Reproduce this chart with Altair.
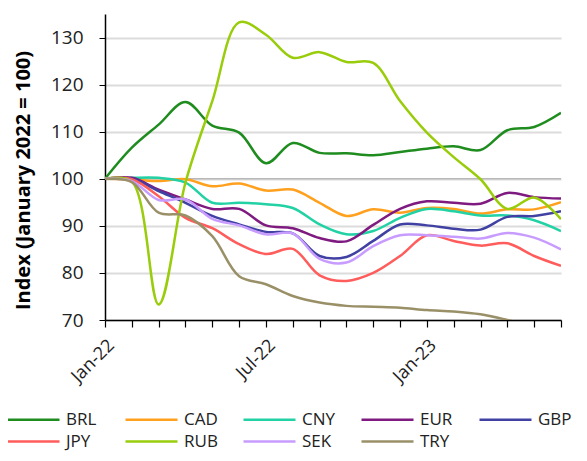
import altair as alt
import pandas as pd

months = ["Jan-22", "Feb-22", "Mar-22", "Apr-22", "May-22", "Jun-22", "Jul-22", "Aug-22", "Sep-22",
          "Oct-22", "Nov-22", "Dec-22", "Jan-23", "Feb-23", "Mar-23", "Apr-23", "May-23", "Jun-23"]
labelled = ["Jan-22", "Jul-22", "Jan-23"]

BRL = [100, 106.6, 111.5, 116.3, 111.3, 109.8, 103.3, 107.6, 105.5, 105.4, 105.0, 105.7, 106.4, 106.9, 106.1, 110.3, 111.0, 114.0]
CAD = [100, 99.9, 99.5, 99.9, 98.4, 99.0, 97.5, 97.7, 94.9, 92.1, 93.5, 92.8, 93.8, 93.6, 92.6, 93.5, 93.5, 95.0]
CNY = [100, 100.2, 100.2, 99.2, 94.9, 94.9, 94.6, 93.8, 90.3, 88.2, 88.9, 91.7, 93.6, 93.1, 92.2, 92.2, 91.2, 88.9]
EUR = [100, 100.2, 97.7, 95.6, 93.6, 93.6, 90.1, 89.5, 87.4, 86.7, 90.2, 93.6, 95.2, 94.9, 94.7, 97.0, 96.1, 95.8]
GBP = [100, 100.0, 97.4, 94.9, 92.1, 90.3, 88.7, 88.4, 83.6, 83.4, 86.8, 90.3, 90.1, 89.4, 89.2, 91.9, 92.1, 93.1]
JPY = [100, 99.9, 96.3, 91.7, 89.5, 86.1, 84.0, 85.1, 79.5, 78.3, 80.0, 83.6, 88.0, 86.8, 85.8, 86.3, 83.6, 81.5]
RUB = [100, 99.4, 73.3, 99.2, 116.5, 133.2, 130.6, 125.7, 126.9, 124.8, 124.6, 116.5, 109.8, 104.6, 99.9, 93.6, 96.0, 91.4]
SEK = [100, 99.5, 95.5, 95.6, 91.5, 90.1, 88.2, 88.4, 83.0, 82.2, 85.7, 88.0, 88.0, 87.7, 87.3, 88.5, 87.5, 85.0]
TRY = [100, 99.3, 92.8, 92.2, 87.8, 79.3, 77.6, 75.1, 73.7, 73.0, 72.8, 72.6, 72.1, 71.8, 71.2, 70.0, 68.6, 67.5]

series = {"BRL": BRL, "CAD": CAD, "CNY": CNY, "EUR": EUR, "GBP": GBP,
          "JPY": JPY, "RUB": RUB, "SEK": SEK, "TRY": TRY}
colors = ["#1f8c1f", "#ffa01e", "#22d1a4", "#7f1a80", "#4141a3",
          "#ff5c5c", "#99cc0a", "#c89cff", "#9a9068"]

rows = []
for name, vals in series.items():
    for m, v in zip(months, vals):
        rows.append({"month": m, "currency": name, "value": v})
df = pd.DataFrame(rows)

FONT = "Open Sans"
label_expr = "indexof(" + str(labelled) + ", datum.value) >= 0 ? datum.value : ''"

lines = alt.Chart(df).mark_line(interpolate="catmull-rom", strokeWidth=2.5, clip=True).encode(
    x=alt.X("month:O", sort=months, scale=alt.Scale(type="point", padding=0),
            axis=alt.Axis(title=None, labelExpr=label_expr, labelAngle=-45, labelFontSize=18,
                          labelFont=FONT, labelColor="#222", domainColor="#000", domainWidth=1.5,
                          tickColor="#000", tickSize=7, tickWidth=1.2, labelPadding=9, grid=False)),
    y=alt.Y("value:Q", scale=alt.Scale(domain=[70, 135], nice=False, zero=False),
            axis=alt.Axis(values=[70, 80, 90, 100, 110, 120, 130], title="Index (January 2022 = 100)",
                          titleFont=FONT, titleFontSize=20, titleFontWeight="bold", titleColor="#000",
                          titleX=-72, titleY=166, titleBaseline="bottom",
                          labelFont=FONT, labelFontSize=19, labelColor="#222", labelPadding=16,
                          domainColor="#000", domainWidth=1.5, tickColor="#000", tickSize=6,
                          gridColor="#dcdcdc", gridWidth=2)),
    color=alt.Color("currency:N", scale=alt.Scale(domain=list(series.keys()), range=colors),
                    legend=alt.Legend(title=None, orient="none", legendX=-99, legendY=394,
                                      direction="horizontal", columns=5,
                                      symbolType="M-1,0H4.2", symbolSize=400,
                                      symbolStrokeWidth=2.5, labelFontSize=17,
                                      labelFont=FONT, labelColor="#222", labelOffset=37,
                                      columnPadding=20, rowPadding=2, gridAlign="all"))
)

ref = alt.Chart(pd.DataFrame({"y": [100]})).mark_rule(color="#a6a6a6", strokeWidth=1).encode(
    y=alt.Y("y:Q", scale=alt.Scale(domain=[70, 135]))
)

chart = alt.layer(ref, lines).properties(
    width=456, height=306,
    autosize=alt.AutoSizeParams(type="none"),
    padding={"left": 97, "top": 6, "right": 18, "bottom": 133},
).configure_view(stroke=None)

chart.save("out.html", embed_options={"renderer": "svg", "actions": False})
